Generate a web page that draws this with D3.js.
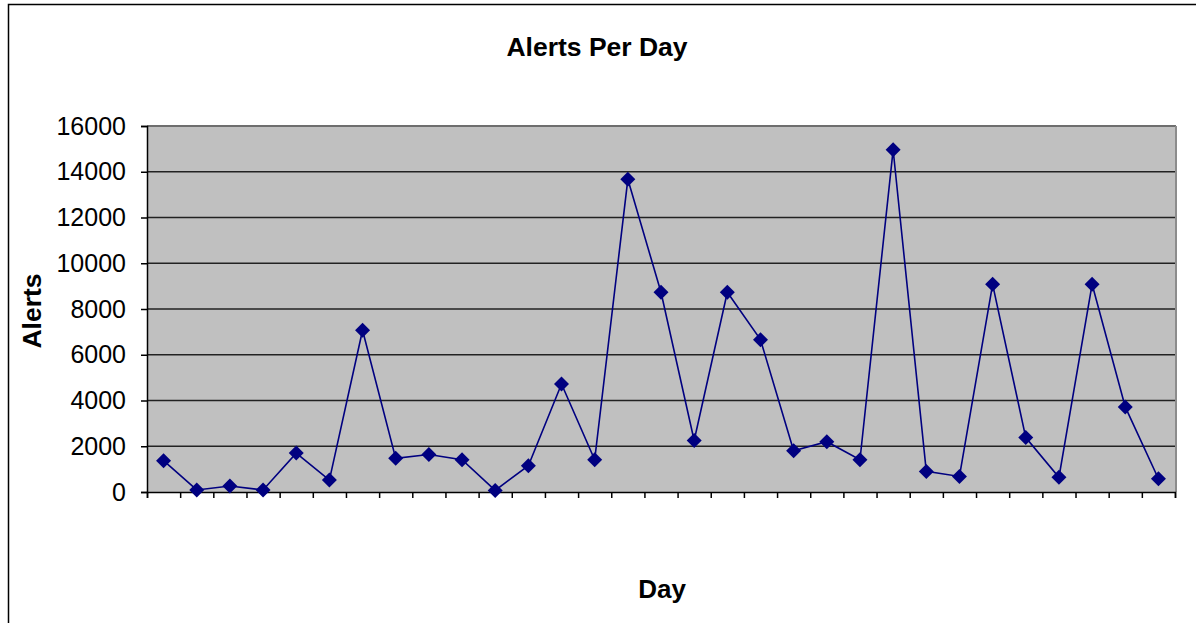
<!DOCTYPE html>
<html>
<head>
<meta charset="utf-8">
<script src="https://cdn.jsdelivr.net/npm/d3@7"></script>
<style>
  body { margin: 0; background: #fff; }
  text { font-family: "Liberation Sans", Arial, sans-serif; }
</style>
</head>
<body>
<svg id="chart" width="1196" height="623"></svg>
<script>
// data
var days = d3.range(1, 32);
var alerts = [1370, 90, 260, 90, 1700, 520, 7070, 1470, 1640, 1410,
              70, 1150, 4720, 1410, 13670, 8730, 2250, 8730, 6660, 1800,
              2200, 1410, 14960, 900, 680, 9080, 2380, 640, 9080, 3720, 580];
var yTicks = [0, 2000, 4000, 6000, 8000, 10000, 12000, 14000, 16000];

var svgWidth = 1196, svgHeight = 623;
var plot = {left: 147, top: 126, right: 1175, bottom: 492};

var svg = d3.select("#chart");

// outer chart frame (runs off the right/bottom edge like the original)
svg.append("rect")
  .attr("x", 8.5).attr("y", 4.5)
  .attr("width", 1300).attr("height", 700)
  .attr("fill", "#fff").attr("stroke", "#000").attr("stroke-width", 1.5);

var x = d3.scaleLinear().domain([0, days.length]).range([plot.left, plot.right]);
var y = d3.scaleLinear().domain([0, 16000]).range([plot.bottom, plot.top]);

// plot background
svg.append("rect")
  .attr("x", plot.left).attr("y", plot.top)
  .attr("width", plot.right - plot.left).attr("height", plot.bottom - plot.top)
  .attr("fill", "#c0c0c0");

// gridlines
svg.append("g").selectAll("line")
  .data(yTicks.filter(function(d){ return d > 0 && d < 16000; }))
  .enter().append("line")
  .attr("x1", plot.left).attr("x2", plot.right)
  .attr("y1", function(d){ return y(d); }).attr("y2", function(d){ return y(d); })
  .attr("stroke", "#222").attr("stroke-width", 1.5);

// plot border top / right
svg.append("line")
  .attr("x1", plot.left).attr("x2", plot.right + 1)
  .attr("y1", plot.top).attr("y2", plot.top)
  .attr("stroke", "#6e6e6e").attr("stroke-width", 2);
svg.append("line")
  .attr("x1", plot.right + 1).attr("x2", plot.right + 1)
  .attr("y1", plot.top).attr("y2", plot.bottom)
  .attr("stroke", "#8c8c8c").attr("stroke-width", 2);

// y axis
var yAxis = svg.append("g")
  .attr("transform", "translate(" + plot.left + ",0)")
  .call(d3.axisLeft(y).tickValues(yTicks).tickSize(6).tickPadding(15).tickFormat(d3.format("d")));
yAxis.select(".domain").attr("stroke", "#000").attr("stroke-width", 1.5);
yAxis.selectAll(".tick line").attr("stroke", "#000").attr("stroke-width", 1.5);
yAxis.selectAll(".tick text").attr("font-size", 25).attr("fill", "#000")
  .attr("font-family", "'Liberation Sans', Arial, sans-serif");

// x axis - ticks only, at category boundaries
var xAxis = svg.append("g")
  .attr("transform", "translate(0," + plot.bottom + ")")
  .call(d3.axisBottom(x).tickValues(d3.range(0, days.length + 1)).tickSize(6).tickFormat(""));
xAxis.select(".domain").attr("stroke", "#000").attr("stroke-width", 1.5);
xAxis.selectAll(".tick line").attr("stroke", "#000").attr("stroke-width", 1.5);

// line
var line = d3.line()
  .x(function(d, i){ return x(i + 0.5); })
  .y(function(d){ return y(d); });

svg.append("path")
  .datum(alerts)
  .attr("d", line)
  .attr("fill", "none")
  .attr("stroke", "#000080")
  .attr("stroke-width", 1.6);

// diamond markers
svg.append("g").selectAll("path")
  .data(alerts)
  .enter().append("path")
  .attr("transform", function(d, i){ return "translate(" + x(i + 0.5) + "," + y(d) + ")"; })
  .attr("d", "M0,-7.5L7.5,0L0,7.5L-7.5,0Z")
  .attr("fill", "#000080");

// titles
svg.append("text")
  .attr("x", 597).attr("y", 56)
  .attr("text-anchor", "middle")
  .attr("font-size", 26.5).attr("font-weight", "bold")
  .text("Alerts Per Day");

svg.append("text")
  .attr("x", 662).attr("y", 598)
  .attr("text-anchor", "middle")
  .attr("font-size", 26).attr("font-weight", "bold")
  .text("Day");

svg.append("text")
  .attr("transform", "translate(41,311) rotate(-90)")
  .attr("text-anchor", "middle")
  .attr("font-size", 26.5).attr("font-weight", "bold")
  .text("Alerts");
</script>
</body>
</html>
